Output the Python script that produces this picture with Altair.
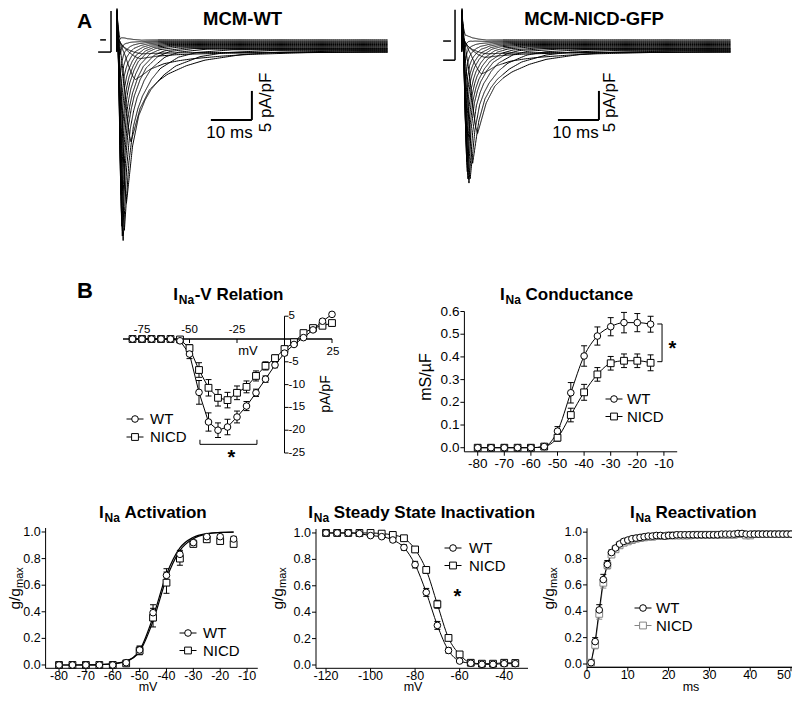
import numpy as np
import pandas as pd
import altair as alt

FONT = "Liberation Sans"
M = 8  # page margin: picture pixel -> chart pixel

# ---------------- Panel A : representative current families ----------------
TRACE_MV = [-60, -55, -50, -45, -40, -35, -30, -25, -20, -15, -10, -5, 0, 5, 10, 15, 20, 25]
WT_PEAK = [0.3, 1.2, 5.0, 16.0, 27.0, 32.0, 34.0, 33.5, 32.0, 30.0, 27.0, 23.5, 19.5, 15.5, 11.5, 7.5, 4.0, 1.5]
WT_TTP = [6.0, 5.5, 4.5, 3.4, 2.3, 1.8, 1.5, 1.3, 1.2, 1.1, 1.0, 0.95, 0.9, 0.85, 0.8, 0.8, 0.75, 0.75]
WT_TAU = [10.0, 9.0, 7.0, 4.5, 3.0, 2.2, 1.7, 1.45, 1.3, 1.15, 1.05, 1.0, 0.95, 0.9, 0.85, 0.8, 0.8, 0.8]
NICD_PEAK = [0.3, 1.0, 4.0, 14.5, 20.0, 23.0, 24.0, 23.5, 22.5, 21.0, 19.0, 16.5, 14.0, 11.0, 8.0, 5.0, 2.5, 0.8]
NICD_TTP = [6.0, 5.5, 4.8, 3.8, 2.6, 2.0, 1.7, 1.45, 1.3, 1.2, 1.1, 1.0, 0.95, 0.9, 0.85, 0.8, 0.8, 0.8]
NICD_TAU = [10.0, 9.0, 7.0, 4.2, 3.0, 2.3, 1.8, 1.55, 1.4, 1.25, 1.15, 1.05, 1.0, 0.95, 0.9, 0.85, 0.8, 0.8]
LATE_I = [-0.7, -0.65, -0.6, -0.5, -0.4, -0.3, -0.2, -0.1, 0.0, 0.15, 0.3, 0.45, 0.6, 0.75, 0.9, 1.05, 1.2, 1.4]
RISE_T = [0.0, 0.2, 0.45, 0.7, 0.88, 1.0]
RISE_Y = [0.0, 0.04, 0.3, 0.7, 0.93, 1.0]
DECAY_T = [0, 0.5, 1, 1.5, 2, 3, 4, 6, 8, 12]
DECAY_Y = [1.0, 0.62, 0.42, 0.32, 0.25, 0.16, 0.1, 0.04, 0.015, 0.0]
CAP_T = [0.0, 0.15, 0.4, 0.8, 1.5, 2.5, 4.0, 6.0]
CAP_Y = [5.4, 3.4, 2.3, 1.6, 1.0, 0.55, 0.22, 0.0]
BAR_MS = 10
BAR_PA = 5
# voltage-protocol marks left of the traces (ms, pA/pF)
WT_PROTO = {"t1": [-1.46, -4.6, -4.1], "t2": [-1.46, -1.46, -2.7], "i1": [6.4, -0.7, 1.4], "i2": [-0.7, -0.7, 1.4]}
NICD_PROTO = {"t1": [-1.7, -4.6, -4.6], "t2": [-1.7, -1.7, -2.7], "i1": [6.6, -2.1, 1.2], "i2": [-2.1, -2.1, 1.2]}

# ---------------- Panel B data ----------------
IV_MV = [-80, -75, -70, -65, -60, -55, -50, -45, -40, -35, -30, -25, -20, -15, -10, -5, 0, 5, 10, 15, 20, 25]
IV_WT = [0, 0, 0, 0, 0, -0.4, -3.3, -11.7, -18.2, -20.0, -19.3, -17.1, -14.7, -11.8, -8.8, -5.7, -3.1, -1.2, 0.3, 2.0, 3.9, 5.4]
IV_WT_ERR = [0, 0, 0, 0, 0, 0.3, 1.0, 2.6, 2.0, 1.6, 1.7, 1.3, 1.0, 0.8, 0.7, 0.6, 0.5, 0.4, 0.4, 0.4, 0.4, 0.4]
IV_NICD = [0, 0, 0, 0, 0, -0.1, -2.0, -6.8, -10.7, -12.9, -13.4, -11.8, -10.5, -8.1, -5.9, -4.2, -2.2, -0.7, 1.3, 2.4, 2.9, 3.5]
IV_NICD_ERR = [0, 0, 0, 0, 0, 0.2, 0.8, 1.6, 1.8, 1.8, 1.7, 1.5, 1.3, 1.1, 0.9, 0.7, 0.6, 0.5, 0.4, 0.4, 0.4, 0.4]

G_MV = [-80, -75, -70, -65, -60, -55, -50, -45, -40, -35, -30, -25, -20, -15]
G_WT = [0, 0, 0, 0, 0, 0.005, 0.073, 0.242, 0.404, 0.492, 0.533, 0.551, 0.551, 0.544]
G_WT_ERR = [0, 0, 0, 0, 0, 0.005, 0.02, 0.045, 0.045, 0.04, 0.04, 0.045, 0.04, 0.035]
G_NICD = [0, 0, 0, 0, 0, 0.005, 0.044, 0.144, 0.244, 0.323, 0.372, 0.383, 0.383, 0.374]
G_NICD_ERR = [0, 0, 0, 0, 0, 0.005, 0.015, 0.03, 0.035, 0.03, 0.03, 0.03, 0.03, 0.035]

ACT_MV = [-80, -75, -70, -65, -60, -55, -50, -45, -40, -35, -30, -25, -20, -15]
ACT_WT = [0, 0, 0, 0, 0, 0.017, 0.113, 0.393, 0.674, 0.832, 0.92, 0.965, 0.965, 0.947]
ACT_WT_ERR = [0, 0, 0, 0, 0, 0.01, 0.03, 0.06, 0.05, 0.03, 0.02, 0.015, 0.015, 0.02]
ACT_NICD = [0, 0, 0, 0, 0, 0.012, 0.107, 0.356, 0.619, 0.80, 0.91, 0.945, 0.932, 0.91]
ACT_NICD_ERR = [0, 0, 0, 0, 0, 0.01, 0.03, 0.07, 0.08, 0.05, 0.02, 0.02, 0.02, 0.02]
ACT_FIT_WT = [0.0, 0.0, 0.001, 0.003, 0.01, 0.03, 0.11, 0.36, 0.68, 0.88, 0.96, 0.988, 0.997, 1.0]
ACT_FIT_NICD = [0.0, 0.0, 0.001, 0.003, 0.009, 0.027, 0.1, 0.33, 0.65, 0.86, 0.95, 0.985, 0.996, 0.999]

SSI_MV = [-120, -115, -110, -105, -100, -95, -90, -85, -80, -75, -70, -65, -60, -55, -50, -45, -40, -35]
SSI_WT = [1.0, 1.0, 1.0, 0.995, 0.98, 0.972, 0.947, 0.89, 0.76, 0.55, 0.30, 0.11, 0.03, 0.013, 0.005, 0.005, 0.01, 0.01]
SSI_WT_ERR = [0.005, 0.005, 0.005, 0.005, 0.01, 0.01, 0.015, 0.02, 0.025, 0.03, 0.03, 0.02, 0.01, 0.005, 0.005, 0.005, 0.005, 0.005]
SSI_NICD = [1.0, 1.0, 1.0, 1.0, 1.0, 0.995, 0.985, 0.96, 0.875, 0.72, 0.46, 0.205, 0.08, 0.017, 0.01, 0.01, 0.017, 0.015]
SSI_NICD_ERR = [0.005, 0.005, 0.005, 0.005, 0.005, 0.01, 0.01, 0.015, 0.02, 0.025, 0.03, 0.02, 0.015, 0.005, 0.005, 0.005, 0.005, 0.005]

RE_MS = [1, 2, 3, 4, 5, 6, 7, 8, 9, 10, 11, 12, 13, 14, 15, 16, 17, 18, 19, 20,
         21, 22, 23, 24, 25, 26, 27, 28, 29, 30, 31, 32, 33, 34, 35, 36, 37, 38, 39, 40,
         41, 42, 43, 44, 45, 46, 47, 48, 49, 50]
RE_WT = [0.01, 0.17, 0.41, 0.64, 0.755, 0.845, 0.88, 0.91, 0.93, 0.94,
         0.95, 0.955, 0.96, 0.965, 0.97, 0.97, 0.975, 0.975, 0.97, 0.975,
         0.975, 0.98, 0.98, 0.98, 0.98, 0.98, 0.98, 0.98, 0.98, 0.98,
         0.98, 0.98, 0.985, 0.985, 0.985, 0.985, 0.99, 0.99, 0.985, 0.985,
         0.985, 0.985, 0.985, 0.985, 0.985, 0.985, 0.985, 0.985, 0.985, 0.985]
RE_WT_ERR = [0.005, 0.03, 0.04, 0.04, 0.03, 0.02, 0.015, 0.01, 0.01, 0.01,
             0.005, 0.005, 0.005, 0.005, 0.005, 0.005, 0.005, 0.005, 0.005, 0.005,
             0.005, 0.005, 0.005, 0.005, 0.005, 0.005, 0.005, 0.005, 0.005, 0.005,
             0.005, 0.005, 0.005, 0.005, 0.005, 0.005, 0.005, 0.005, 0.005, 0.005,
             0.005, 0.005, 0.005, 0.005, 0.005, 0.005, 0.005, 0.005, 0.005, 0.005]
RE_NICD = [0.01, 0.145, 0.38, 0.616, 0.75, 0.83, 0.87, 0.90, 0.92, 0.93,
           0.94, 0.95, 0.955, 0.96, 0.965, 0.965, 0.97, 0.97, 0.97, 0.975,
           0.975, 0.975, 0.975, 0.975, 0.975, 0.98, 0.98, 0.98, 0.98, 0.98,
           0.98, 0.98, 0.98, 0.98, 0.98, 0.98, 0.985, 0.985, 0.975, 0.975,
           0.985, 0.985, 0.985, 0.985, 0.985, 0.985, 0.985, 0.985, 0.985, 0.985]
RE_NICD_ERR = [0.005, 0.03, 0.04, 0.04, 0.03, 0.02, 0.015, 0.01, 0.01, 0.01,
               0.005, 0.005, 0.005, 0.005, 0.005, 0.005, 0.005, 0.005, 0.005, 0.005,
               0.005, 0.005, 0.005, 0.005, 0.005, 0.005, 0.005, 0.005, 0.005, 0.005,
               0.005, 0.005, 0.005, 0.005, 0.005, 0.005, 0.005, 0.005, 0.005, 0.005,
               0.005, 0.005, 0.005, 0.005, 0.005, 0.005, 0.005, 0.005, 0.005, 0.005]

# axis tick values
IV_XT = [-75, -50, -25]
IV_YT = [5, -5, -10, -15, -20, -25]
MV_T = [-80, -70, -60, -50, -40, -30, -20, -10]
SSI_T = [-120, -100, -80, -60, -40]
MS_T = [0, 10, 20, 30, 40]
G_T = [0.0, 0.1, 0.2, 0.3, 0.4, 0.5, 0.6]
N_T = [0.0, 0.2, 0.4, 0.6, 0.8, 1.0]

GREY = "#858585"
ONE = pd.DataFrame({"k": [0]})
PT_SIZE = {"circle": 44, "square": 46}


# ---------------- helpers ----------------
def text(s, x, y, size, weight="normal", align="left", baseline="alphabetic", angle=0, color="black"):
    return alt.Chart(ONE).mark_text(
        text=s, font=FONT, fontSize=size, fontWeight=weight, align=align,
        baseline=baseline, angle=angle, color=color
    ).encode(x=alt.value(x - M), y=alt.value(y - M))


def sub_title(x0, base, rest, gap, size=17, sub=12):
    wi = 0.278 * size + 0.8
    wn = 1.278 * sub
    return [text("I", x0, base, size, "bold"),
            text("Na", x0 + wi, base + 4, sub, "bold"),
            text(rest, x0 + wi + wn + gap, base, size, "bold")]


def g_gmax(xb, yc):
    return [text("g/g", xb, yc, 15.5, align="right", angle=270),
            text("max", xb + 3.2, yc, 11, align="left", angle=270)]


def legend(cx, cy, tx, shape, stroke, label):
    r = alt.Chart(ONE).mark_rule(color=stroke, strokeWidth=1).encode(
        x=alt.value(cx - 8.5 - M), x2=alt.value(cx + 8.5 - M), y=alt.value(cy - M))
    p = alt.Chart(ONE).mark_point(shape=shape, filled=True, fill="white", stroke=stroke, strokeWidth=1,
                                  size=PT_SIZE[shape], opacity=1).encode(
        x=alt.value(cx - M), y=alt.value(cy - M))
    return [r, p, text(label, tx, cy, 15, baseline="middle")]


def scale(domain, p0, p1):
    return alt.Scale(domain=domain, range=[p0 - M, p1 - M], nice=False, zero=False)


def rules(x1, x2, y1, y2, X, Y, width=1, color="black"):
    df = pd.DataFrame({"x1": x1, "x2": x2, "y1": y1, "y2": y2})
    return alt.Chart(df).mark_rule(color=color, strokeWidth=width).encode(
        x=alt.X("x1:Q", scale=X, axis=None), x2="x2:Q",
        y=alt.Y("y1:Q", scale=Y, axis=None), y2="y2:Q")


def x_axis(X, Y, vals, labs, y_at, lo, hi, size, up_labels=False, ticks_up=False, tick=4, label_gap=4,
           align="center"):
    dom = rules([lo], [hi], [y_at], [y_at], X, Y)
    df = pd.DataFrame({"v": vals, "a": [y_at for _ in vals], "lab": labs})
    ex = alt.X("v:Q", scale=X, axis=None)
    ey = alt.Y("a:Q", scale=Y, axis=None)
    tk = alt.Chart(df).mark_tick(orient="vertical", size=tick, thickness=1, color="black", opacity=1,
                                 yOffset=(-tick / 2 if ticks_up else tick / 2)).encode(x=ex, y=ey)
    lb = alt.Chart(df).mark_text(font=FONT, fontSize=size, color="black", align=align,
                                 baseline=("bottom" if up_labels else "top"),
                                 dy=(-label_gap if up_labels else label_gap)).encode(x=ex, y=ey, text="lab:N")
    return [dom, tk, lb]


def y_axis(X, Y, vals, labs, x_at, lo, hi, size, right=False, tick=4, label_gap=5):
    dom = rules([x_at], [x_at], [lo], [hi], X, Y)
    df = pd.DataFrame({"v": vals, "a": [x_at for _ in vals], "lab": labs})
    ex = alt.X("a:Q", scale=X, axis=None)
    ey = alt.Y("v:Q", scale=Y, axis=None)
    tk = alt.Chart(df).mark_tick(orient="horizontal", size=tick, thickness=1, color="black", opacity=1,
                                 xOffset=(tick / 2 if right else -tick / 2)).encode(x=ex, y=ey)
    lb = alt.Chart(df).mark_text(font=FONT, fontSize=size, color="black",
                                 align=("left" if right else "right"), baseline="middle",
                                 dx=(label_gap if right else -label_gap)).encode(x=ex, y=ey, text="lab:N")
    return [dom, tk, lb]


def series(xs, ys, errs, X, Y, shape, stroke, interp="linear"):
    df = pd.DataFrame({"x": xs, "y": ys,
                       "lo": [a - e for a, e in zip(ys, errs)],
                       "hi": [a + e for a, e in zip(ys, errs)]})
    base = alt.Chart(df)
    ex = alt.X("x:Q", scale=X, axis=None)
    line = base.mark_line(color=stroke, strokeWidth=1, interpolate=interp).encode(
        x=ex, y=alt.Y("y:Q", scale=Y, axis=None))
    bars = [
        base.mark_rule(color=stroke, strokeWidth=1).encode(
            x=ex, y=alt.Y("lo:Q", scale=Y, axis=None), y2="hi:Q"),
        base.mark_tick(orient="horizontal", size=6, thickness=1, color=stroke, opacity=1).encode(
            x=ex, y=alt.Y("lo:Q", scale=Y, axis=None)),
        base.mark_tick(orient="horizontal", size=6, thickness=1, color=stroke, opacity=1).encode(
            x=ex, y=alt.Y("hi:Q", scale=Y, axis=None)),
    ]
    pts = base.mark_point(shape=shape, filled=True, fill="white", stroke=stroke, strokeWidth=1,
                          size=PT_SIZE[shape], opacity=1).encode(x=ex, y=alt.Y("y:Q", scale=Y, axis=None))
    return line, bars, pts


def fit_line(xs, ys, X, Y, stroke="black"):
    return alt.Chart(pd.DataFrame({"x": xs, "y": ys})).mark_line(
        color=stroke, strokeWidth=1.2, interpolate="monotone").encode(
        x=alt.X("x:Q", scale=X, axis=None), y=alt.Y("y:Q", scale=Y, axis=None))


def s_int(v):
    return [str(int(a)) for a in v]


def s_dec(v):
    return [f"{a:.1f}" for a in v]


# ---------------- Panel A builder ----------------
MS_PX, PA_PX, ZERO_Y = 4.1, 5.8, 48.0


def build_traces(peaks, ttps, taus, t_end):
    t = np.concatenate([np.arange(0.0, 10.0, 0.05), np.arange(10.0, t_end + 1e-6, 0.5)])
    frames = []
    for k in range(len(peaks)):
        rise = np.interp(t / ttps[k], RISE_T, RISE_Y)
        fall = np.interp((t - ttps[k]) / taus[k], DECAY_T, DECAY_Y)
        shape = np.where(t <= ttps[k], rise, fall)
        cur = LATE_I[k] + np.interp(t, CAP_T, CAP_Y) - peaks[k] * shape
        frames.append(pd.DataFrame({"t": np.concatenate([[-0.05], t]),
                                    "i": np.concatenate([[LATE_I[k]], cur]), "k": k}))
    return pd.concat(frames, ignore_index=True)


def trace_panel(peaks, ttps, taus, t0px, t_end, bar_corner, proto):
    X = scale([-5, t_end], t0px - 5 * MS_PX, t0px + t_end * MS_PX)
    Y = scale([-34, 7], ZERO_Y + 34 * PA_PX, ZERO_Y - 7 * PA_PX)
    df = build_traces(peaks, ttps, taus, t_end)
    tr = alt.Chart(df).mark_line(color="black", strokeWidth=1.0).encode(
        x=alt.X("t:Q", scale=X, axis=None), y=alt.Y("i:Q", scale=Y, axis=None), detail="k:N")
    bt, bi = bar_corner
    bar = rules([bt - BAR_MS, bt], [bt, bt], [bi, bi], [bi, bi + BAR_PA], X, Y, width=2)
    pr = rules(proto["t1"], proto["t2"], proto["i1"], proto["i2"], X, Y, width=1.5)
    return alt.layer(tr, bar, pr)


panels = []
panels.append(trace_panel(WT_PEAK, WT_TTP, WT_TAU, 117, 66, (32.9, -12.4), WT_PROTO))
panels.append(trace_panel(NICD_PEAK, NICD_TTP, NICD_TAU, 462, 65.5, (33.4, -12.4), NICD_PROTO))

# ---------------- I-V relation ----------------
X = scale([-85, 25], 123, 332)
Y = scale([-25, 5], 453, 316.2)
l1, b1, p1 = series(IV_MV, IV_WT, IV_WT_ERR, X, Y, "circle", "black")
l2, b2, p2 = series(IV_MV, IV_NICD, IV_NICD_ERR, X, Y, "square", "black")
iv = [*x_axis(X, Y, IV_XT, s_int(IV_XT), 0, -85, 25, 11.5, up_labels=True, label_gap=4),
      *x_axis(X, Y, [25], [""], 0, -85, 25, 11.5),
      *y_axis(X, Y, IV_YT, s_int(IV_YT), 0, -25, 5, 11.5, right=True, label_gap=4),
      l2, l1, *b2, *b1, p2, p1,
      rules([-44.5, -44.5, -14.5], [-14.5, -44.5, -14.5], [-23.1, -23.1, -23.1], [-23.1, -22.1, -22.1], X, Y)]
panels.append(alt.layer(*iv))

# ---------------- Conductance ----------------
X = scale([-85, -5], 464.4, 677.2)
Y = scale([-0.018, 0.6], 451.8, 311.5)
l1, b1, p1 = series(G_MV, G_WT, G_WT_ERR, X, Y, "circle", "black", "monotone")
l2, b2, p2 = series(G_MV, G_NICD, G_NICD_ERR, X, Y, "square", "black", "monotone")
gc = [*x_axis(X, Y, MV_T, s_int(MV_T), -0.018, -85, -5, 13.5, label_gap=5),
      *y_axis(X, Y, G_T, s_dec(G_T), -85, -0.018, 0.6, 13.5),
      l2, l1, *b2, *b1, p2, p1,
      rules([-10.7, -12.5, -12.5], [-10.7, -10.7, -10.7], [0.379, 0.545, 0.379], [0.545, 0.545, 0.379], X, Y)]
panels.append(alt.layer(*gc))

# ---------------- Activation ----------------
X = scale([-85, -6], 45.6, 257.8)
Y = scale([-0.025, 1.03], 668.3, 528.0)
_, b1, p1 = series(ACT_MV, ACT_WT, ACT_WT_ERR, X, Y, "circle", "black")
_, b2, p2 = series(ACT_MV, ACT_NICD, ACT_NICD_ERR, X, Y, "square", "black")
ac = [*x_axis(X, Y, MV_T, s_int(MV_T), -0.025, -85, -6, 12.5, label_gap=2),
      *y_axis(X, Y, N_T, s_dec(N_T), -85, -0.025, 1.03, 12.5),
      fit_line(ACT_MV, ACT_FIT_NICD, X, Y), fit_line(ACT_MV, ACT_FIT_WT, X, Y),
      *b2, *b1, p2, p1]
panels.append(alt.layer(*ac))

# ---------------- Steady-state inactivation ----------------
X = scale([-124.5, -29.3], 316, 528)
Y = scale([-0.025, 1.03], 668.3, 529.0)
l1, b1, p1 = series(SSI_MV, SSI_WT, SSI_WT_ERR, X, Y, "circle", "black", "monotone")
l2, b2, p2 = series(SSI_MV, SSI_NICD, SSI_NICD_ERR, X, Y, "square", "black", "monotone")
ss = [*x_axis(X, Y, SSI_T, s_int(SSI_T), -0.025, -124.5, -29.3, 12.5, label_gap=2),
      *y_axis(X, Y, N_T, s_dec(N_T), -124.5, -0.025, 1.03, 12.5),
      l2, l1, *b2, *b1, p2, p1]
panels.append(alt.layer(*ss))

# ---------------- Reactivation ----------------
X = scale([0, 50], 587, 791)
Y = scale([-0.025, 1.03], 667.3, 528.2)
l1, b1, p1 = series(RE_MS, RE_WT, RE_WT_ERR, X, Y, "circle", "black")
l2, b2, p2 = series(RE_MS, RE_NICD, RE_NICD_ERR, X, Y, "square", GREY)
rc = [*x_axis(X, Y, MS_T, s_int(MS_T), -0.025, 0, 50.5, 12.5, label_gap=2),
      *x_axis(X, Y, [50], ["50"], -0.025, 0, 50.5, 12.5, label_gap=2, align="right"),
      *y_axis(X, Y, N_T, s_dec(N_T), 0, -0.025, 1.03, 12.5),
      l2, l1, *b2, *b1, p2, p1]
panels.append(alt.layer(*rc))

# ---------------- texts & legends ----------------
ann = [
    text("A", 77, 27.5, 21, "bold"),
    text("B", 77, 298.3, 22, "bold"),
    text("MCM-WT", 242.6, 25, 18.5, "bold", align="center"),
    text("MCM-NICD-GFP", 594, 25, 18.5, "bold", align="center"),
    text("10 ms", 229.5, 137.5, 17, align="center"),
    text("5 pA/pF", 265.5, 102.5, 17, align="center", baseline="middle", angle=270),
    text("10 ms", 575.5, 138, 17, align="center"),
    text("5 pA/pF", 610, 102.5, 17, align="center", baseline="middle", angle=270),
    *sub_title(173.3, 299.5, "-V Relation", 0.5),
    *sub_title(500, 299.7, "Conductance", 4.7),
    *sub_title(99, 517.7, "Activation", 4.7),
    *sub_title(308.3, 518, "Steady State Inactivation", 4.7),
    *sub_title(630, 518, "Reactivation", 4.7),
    text("mV", 248, 355, 13, align="center"),
    text("25", 333, 355, 11.5, align="center"),
    text("pA/pF", 326, 394, 14, align="center", baseline="middle", angle=270),
    text("mS/µF", 426, 377, 16, align="center", baseline="middle", angle=270),
    text("mV", 148, 691.2, 12.5, align="center"),
    text("mV", 413, 691.2, 12.5, align="center"),
    text("ms", 691, 691.2, 12.5, align="center"),
    *g_gmax(19.5, 588), *g_gmax(283, 588), *g_gmax(554, 588),
    text("*", 231.5, 463.5, 20, "bold", align="center"),
    text("*", 672.5, 355, 20, "bold", align="center"),
    text("*", 457.5, 602.5, 20, "bold", align="center"),
    *legend(135, 419, 150, "circle", "black", "WT"),
    *legend(135, 437, 150, "square", "black", "NICD"),
    *legend(614, 399, 627, "circle", "black", "WT"),
    *legend(614, 416.5, 627, "square", "black", "NICD"),
    *legend(188, 633, 203, "circle", "black", "WT"),
    *legend(188, 650.5, 203, "square", "black", "NICD"),
    *legend(453, 548, 469, "circle", "black", "WT"),
    *legend(453, 565.5, 469, "square", "black", "NICD"),
    *legend(643, 608, 656, "circle", "black", "WT"),
    *legend(643, 625.5, 656, "square", GREY, "NICD"),
]

chart = alt.layer(*panels, *ann).resolve_scale(
    x="independent", y="independent"
).properties(
    width=784, height=686, padding=0, autosize="none", background="white"
).configure_view(stroke=None)

chart.save("out.html", embed_options={"renderer": "svg", "actions": False})
